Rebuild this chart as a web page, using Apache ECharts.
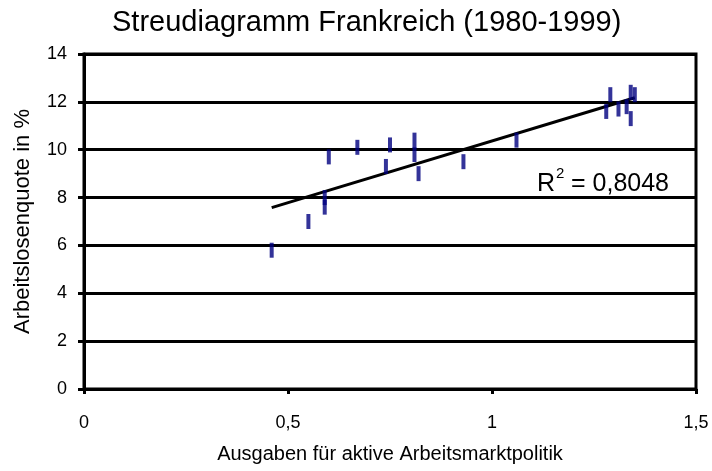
<!DOCTYPE html>
<html>
<head>
<meta charset="utf-8">
<script src="https://cdn.jsdelivr.net/npm/echarts@6/dist/echarts.min.js"></script>
<style>
  html, body { margin: 0; padding: 0; background: #fff; }
  #chart { width: 712px; height: 471px; }
</style>
</head>
<body>
<div id="chart"></div>
<script>
// Ausgaben (x) und Arbeitslosenquote (y), Frankreich 1980-1999
const ausgaben = [0.46, 0.55, 0.59, 0.59, 0.60, 0.67, 0.75, 0.74, 0.81, 0.81,
                  0.82, 0.93, 1.06, 1.28, 1.29, 1.31, 1.34, 1.33, 1.34, 1.35];
const quote    = [5.8, 7.0, 8.0, 7.6, 9.7, 10.1, 10.2, 9.3, 10.4, 9.8,
                  9.0, 9.5, 10.4, 11.6, 12.3, 11.7, 12.4, 11.8, 11.3, 12.3];
const rSquared = '0,8048';

// lineare Trendlinie (kleinste Quadrate)
const n = ausgaben.length;
const mx = ausgaben.reduce((a, b) => a + b, 0) / n;
const my = quote.reduce((a, b) => a + b, 0) / n;
let sxy = 0, sxx = 0;
for (let i = 0; i < n; i++) {
    sxy += (ausgaben[i] - mx) * (quote[i] - my);
    sxx += (ausgaben[i] - mx) * (ausgaben[i] - mx);
}
const slope = sxy / sxx;
const icpt = my - slope * mx;
const xMin = Math.min(...ausgaben), xMax = Math.max(...ausgaben);
const trend = [[xMin, icpt + slope * xMin], [xMax, icpt + slope * xMax]];

const font = 'Liberation Sans, Arial, sans-serif';
const chart = echarts.init(document.getElementById('chart'));

chart.setOption({
    backgroundColor: '#fff',
    animation: false,
    title: {
        text: 'Streudiagramm Frankreich (1980-1999)',
        left: 107,
        top: 3,
        textStyle: { fontFamily: font, fontSize: 29, fontWeight: 'normal', color: '#000' }
    },
    grid: {
        left: 84, right: 16, top: 54, bottom: 82,
        show: true, borderColor: '#000', borderWidth: 3
    },
    xAxis: {
        type: 'value',
        min: 0, max: 1.5, interval: 0.5,
        name: 'Ausgaben für aktive Arbeitsmarktpolitik',
        nameLocation: 'middle',
        nameGap: 55,
        nameTextStyle: { fontFamily: font, fontSize: 20, color: '#000' },
        axisLine: { lineStyle: { color: '#000', width: 3 } },
        axisTick: { show: true, length: 5, lineStyle: { color: '#000', width: 3 } },
        axisLabel: {
            margin: 25, fontFamily: font, fontSize: 18, color: '#000',
            formatter: v => String(v).replace('.', ',')
        },
        splitLine: { show: false }
    },
    yAxis: {
        type: 'value',
        min: 0, max: 14, interval: 2,
        name: 'Arbeitslosenquote in %',
        nameLocation: 'middle',
        nameGap: 50,
        nameTextStyle: { fontFamily: font, fontSize: 22, color: '#000' },
        axisLine: { lineStyle: { color: '#000', width: 3 } },
        axisTick: { show: true, length: 6, lineStyle: { color: '#000', width: 3 } },
        axisLabel: { margin: 17, fontFamily: font, fontSize: 18, color: '#000' },
        splitLine: { show: true, lineStyle: { color: '#000', width: 3 } }
    },
    series: [
        {
            type: 'line',
            data: trend,
            symbol: 'none',
            lineStyle: { color: '#000', width: 3 },
            z: 2
        },
        {
            type: 'scatter',
            data: ausgaben.map((x, i) => [x, quote[i]]),
            symbol: 'rect',
            symbolSize: [4, 15],
            itemStyle: { color: '#000080' },
            z: 3
        }
    ],
    graphic: [
        { type: 'text', left: 537, top: 172,
          style: { text: 'R', font: '25px ' + font, fill: '#000' } },
        { type: 'text', left: 556, top: 166,
          style: { text: '2', font: '15px ' + font, fill: '#000' } },
        { type: 'text', left: 571, top: 172,
          style: { text: '= ' + rSquared, font: '25px ' + font, fill: '#000' } }
    ]
});
window.addEventListener('resize', function () {
    chart.resize();
});
</script>
</body>
</html>
